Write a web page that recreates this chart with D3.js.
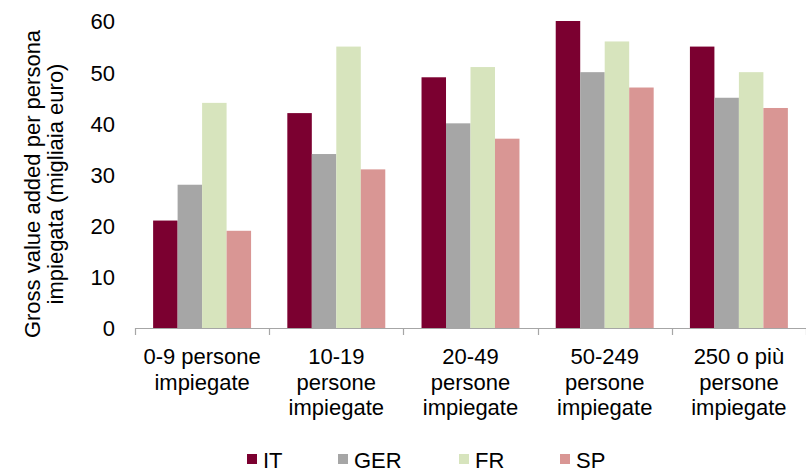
<!DOCTYPE html>
<html>
<head>
<meta charset="utf-8">
<script src="https://cdn.jsdelivr.net/npm/d3@7"></script>
<style>
  html, body { margin: 0; padding: 0; background: #fff; }
  svg { display: block; }
  text { font-family: "Liberation Sans", Arial, sans-serif; fill: #000; }
</style>
</head>
<body>
<svg id="chart" width="806" height="468"></svg>
<script>
// Size classes (category labels, one line per array entry)
const categories = [
  ["0-9 persone", "impiegate"],
  ["10-19", "persone", "impiegate"],
  ["20-49", "persone", "impiegate"],
  ["50-249", "persone", "impiegate"],
  ["250 o più", "persone", "impiegate"]
];
const seriesNames = ["IT", "GER", "FR", "SP"];
const valuesIT  = [21, 42, 49, 60, 55];
const valuesGER = [28, 34, 40, 50, 45];
const valuesFR  = [44, 55, 51, 56, 50];
const valuesSP  = [19, 31, 37, 47, 43];
const yTicks = [0, 10, 20, 30, 40, 50, 60];
const yTitle = ["Gross value added per persona", "impiegata (migliaia euro)"];

const seriesValues = [valuesIT, valuesGER, valuesFR, valuesSP];
const colors = ["#7B0030", "#A6A6A6", "#D7E4BD", "#D99694"];
const fontSize = 22;

const svg = d3.select("#chart");
const plotLeft = 135, plotRight = 806, plotBottom = 328, plotTop = 21;

const x0 = d3.scaleBand()
  .domain(d3.range(categories.length))
  .range([plotLeft, plotRight]);

const x1 = d3.scaleBand()
  .domain(seriesNames)
  .range([0, x0.bandwidth()])
  .paddingOuter(0.74)
  .paddingInner(0);

const y = d3.scaleLinear().domain([0, 60]).range([plotBottom, plotTop]);

// Bars
const groups = svg.append("g").selectAll("g")
  .data(categories.map((c, i) => i))
  .join("g")
  .attr("transform", i => `translate(${x0(i)},0)`);

groups.selectAll("rect")
  .data(i => seriesNames.map((s, k) => ({ s, k, v: seriesValues[k][i] })))
  .join("rect")
  .attr("x", d => x1(d.s))
  .attr("width", x1.bandwidth())
  .attr("y", d => y(d.v))
  .attr("height", d => y(0) - y(d.v))
  .attr("fill", d => colors[d.k]);

// Y axis labels (no axis line)
const yAxis = svg.append("g")
  .attr("transform", `translate(${plotLeft},0)`)
  .call(d3.axisLeft(y).tickValues(yTicks).tickSize(0).tickPadding(20));
yAxis.select(".domain").remove();
yAxis.selectAll("text")
  .style("font-family", "'Liberation Sans', Arial, sans-serif")
  .attr("font-size", fontSize)
  .attr("fill", "#000")
  .attr("dy", "0.36em");

// X axis line with boundary ticks
const axisG = svg.append("g");
axisG.append("line")
  .attr("x1", plotLeft).attr("x2", plotRight)
  .attr("y1", plotBottom + 0.5).attr("y2", plotBottom + 0.5)
  .attr("stroke", "#A6A6A6").attr("stroke-width", 1.2);
const boundaries = d3.range(categories.length + 1).map(i =>
  i < categories.length ? x0(i) : x0(categories.length - 1) + x0.bandwidth());
axisG.selectAll("line.tick")
  .data(boundaries)
  .join("line")
  .attr("class", "tick")
  .attr("x1", d => Math.round(d) + 0.5).attr("x2", d => Math.round(d) + 0.5)
  .attr("y1", plotBottom).attr("y2", plotBottom + 7)
  .attr("stroke", "#A6A6A6").attr("stroke-width", 1.2);

// Category labels
const catLabels = svg.append("g").selectAll("text")
  .data(categories)
  .join("text")
  .attr("text-anchor", "middle")
  .attr("font-size", fontSize)
  .attr("transform", (d, i) => `translate(${x0(i) + x0.bandwidth() / 2},${plotBottom + 36})`);
catLabels.selectAll("tspan")
  .data(d => d)
  .join("tspan")
  .attr("x", 0)
  .attr("y", (d, j) => j * 25.5)
  .text(d => d);

// Y axis title (rotated, two lines)
const yt = svg.append("text")
  .attr("text-anchor", "middle")
  .attr("font-size", fontSize)
  .attr("transform", "translate(0,184) rotate(-90)");
yt.selectAll("tspan")
  .data(yTitle)
  .join("tspan")
  .attr("x", 0)
  .attr("y", (d, j) => 40 + j * 23)
  .text(d => d);

// Legend
const legendX = [247, 338, 459, 560];
const legend = svg.append("g").selectAll("g")
  .data(seriesNames)
  .join("g")
  .attr("transform", (d, i) => `translate(${legendX[i]},454)`);
legend.append("rect")
  .attr("width", 10).attr("height", 10)
  .attr("fill", (d, i) => colors[i]);
legend.append("text")
  .attr("x", 16).attr("y", 14)
  .attr("font-size", fontSize)
  .text(d => d);
</script>
</body>
</html>
